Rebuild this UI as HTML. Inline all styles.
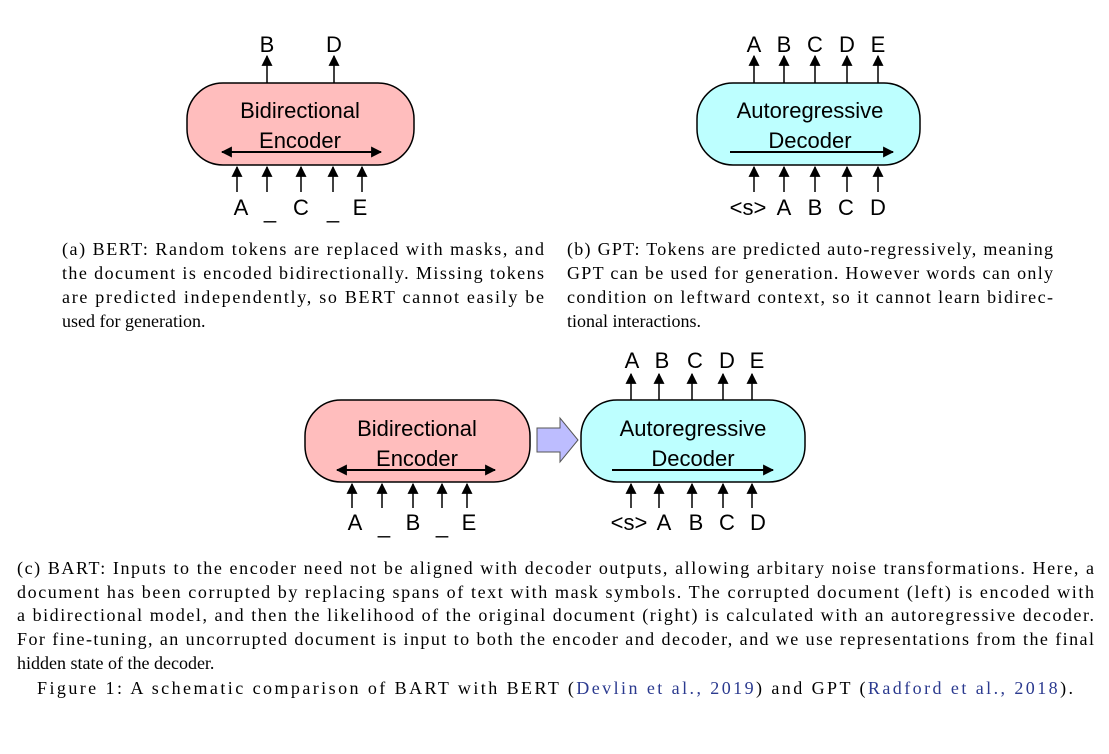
<!DOCTYPE html>
<html><head><meta charset="utf-8"><style>
html,body{margin:0;padding:0;background:#fff;}
svg{display:block;}
.s{font-family:"Liberation Sans",sans-serif;font-size:22px;fill:#000;}
.t{font-family:"Liberation Serif",serif;font-size:18px;fill:#000;}
</style></head><body>
<svg width="1109" height="754" viewBox="0 0 1109 754" xmlns="http://www.w3.org/2000/svg">
<defs>
<marker id="ah" viewBox="0 0 10 10" refX="9" refY="5" markerWidth="11" markerHeight="11" markerUnits="userSpaceOnUse" orient="auto-start-reverse">
<path d="M0,0 L10,5 L0,10 z" fill="#000"/></marker>
</defs>
<g stroke="#000" stroke-width="1.5" fill="none" marker-end="url(#ah)">
<!-- BERT -->
<line x1="267" y1="83" x2="267" y2="56"/><line x1="334" y1="83" x2="334" y2="56"/>
<line x1="237" y1="192" x2="237" y2="167"/><line x1="267" y1="192" x2="267" y2="167"/><line x1="301" y1="192" x2="301" y2="167"/><line x1="333" y1="192" x2="333" y2="167"/><line x1="362" y1="192" x2="362" y2="167"/>
<!-- GPT -->
<line x1="754" y1="83" x2="754" y2="56"/><line x1="784" y1="83" x2="784" y2="56"/><line x1="815" y1="83" x2="815" y2="56"/><line x1="847" y1="83" x2="847" y2="56"/><line x1="878" y1="83" x2="878" y2="56"/>
<line x1="754" y1="192" x2="754" y2="167"/><line x1="784" y1="192" x2="784" y2="167"/><line x1="815" y1="192" x2="815" y2="167"/><line x1="847" y1="192" x2="847" y2="167"/><line x1="878" y1="192" x2="878" y2="167"/>
<!-- BART -->
<line x1="352" y1="508" x2="352" y2="484"/><line x1="382" y1="508" x2="382" y2="484"/><line x1="413" y1="508" x2="413" y2="484"/><line x1="442" y1="508" x2="442" y2="484"/><line x1="467" y1="508" x2="467" y2="484"/>
<line x1="631" y1="400" x2="631" y2="374"/><line x1="659" y1="400" x2="659" y2="374"/><line x1="692" y1="400" x2="692" y2="374"/><line x1="723" y1="400" x2="723" y2="374"/><line x1="752" y1="400" x2="752" y2="374"/>
<line x1="631" y1="508" x2="631" y2="484"/><line x1="659" y1="508" x2="659" y2="484"/><line x1="692" y1="508" x2="692" y2="484"/><line x1="723" y1="508" x2="723" y2="484"/><line x1="752" y1="508" x2="752" y2="484"/>
</g>
<rect x="187" y="83" width="227" height="82" rx="36" fill="#ffbdbd" stroke="#000" stroke-width="1.5"/>
<rect x="697" y="83" width="223" height="82" rx="36" fill="#bdffff" stroke="#000" stroke-width="1.5"/>
<rect x="305" y="400" width="225" height="82" rx="36" fill="#ffbdbd" stroke="#000" stroke-width="1.5"/>
<rect x="581" y="400" width="224" height="82" rx="36" fill="#bdffff" stroke="#000" stroke-width="1.5"/>
<path d="M537,428 L560,428 L560,418 L578,440 L560,462 L560,452 L537,452 z" fill="#bdbdff" stroke="#555" stroke-width="1"/>
<g stroke="#000" stroke-width="2" fill="none">
<line x1="222" y1="152" x2="381" y2="152" marker-start="url(#ah)" marker-end="url(#ah)"/>
<line x1="730" y1="152" x2="893" y2="152" marker-end="url(#ah)"/>
<line x1="337" y1="470" x2="495" y2="470" marker-start="url(#ah)" marker-end="url(#ah)"/>
<line x1="612" y1="470" x2="773" y2="470" marker-end="url(#ah)"/>
</g>
<g class="s" text-anchor="middle">
<text x="300" y="118">Bidirectional</text><text x="300" y="148">Encoder</text>
<text x="810" y="118">Autoregressive</text><text x="810" y="148">Decoder</text>
<text x="417" y="436">Bidirectional</text><text x="417" y="466">Encoder</text>
<text x="693" y="436">Autoregressive</text><text x="693" y="466">Decoder</text>
<text x="267" y="52">B</text><text x="334" y="52">D</text>
<text x="241" y="215">A</text><text x="270" y="218">_</text><text x="301" y="215">C</text><text x="333" y="218">_</text><text x="360" y="215">E</text>
<text x="754" y="52">A</text><text x="784" y="52">B</text><text x="815" y="52">C</text><text x="847" y="52">D</text><text x="878" y="52">E</text>
<text x="748" y="215">&lt;s&gt;</text><text x="784" y="215">A</text><text x="815" y="215">B</text><text x="846" y="215">C</text><text x="878" y="215">D</text>
<text x="355" y="530">A</text><text x="384" y="533">_</text><text x="413" y="530">B</text><text x="442" y="533">_</text><text x="469" y="530">E</text>
<text x="632" y="368">A</text><text x="662" y="368">B</text><text x="695" y="368">C</text><text x="727" y="368">D</text><text x="757" y="368">E</text>
<text x="629" y="530">&lt;s&gt;</text><text x="664" y="530">A</text><text x="696" y="530">B</text><text x="727" y="530">C</text><text x="758" y="530">D</text>
</g>
<g class="t">
<text x="62" y="255" textLength="482" lengthAdjust="spacing">(a) BERT: Random tokens are replaced with masks, and</text>
<text x="62" y="279" textLength="482" lengthAdjust="spacing">the document is encoded bidirectionally. Missing tokens</text>
<text x="62" y="303" textLength="482" lengthAdjust="spacing">are predicted independently, so BERT cannot easily be</text>
<text x="62" y="327">used for generation.</text>
<text x="567" y="255" textLength="486" lengthAdjust="spacing">(b) GPT: Tokens are predicted auto-regressively, meaning</text>
<text x="567" y="279" textLength="486" lengthAdjust="spacing">GPT can be used for generation. However words can only</text>
<text x="567" y="303" textLength="486" lengthAdjust="spacing">condition on leftward context, so it cannot learn bidirec-</text>
<text x="567" y="327">tional interactions.</text>
<text x="17" y="574" textLength="1077" lengthAdjust="spacing">(c) BART: Inputs to the encoder need not be aligned with decoder outputs, allowing arbitary noise transformations. Here, a</text>
<text x="17" y="598" textLength="1077" lengthAdjust="spacing">document has been corrupted by replacing spans of text with mask symbols. The corrupted document (left) is encoded with</text>
<text x="17" y="621" textLength="1077" lengthAdjust="spacing">a bidirectional model, and then the likelihood of the original document (right) is calculated with an autoregressive decoder.</text>
<text x="17" y="645" textLength="1077" lengthAdjust="spacing">For fine-tuning, an uncorrupted document is input to both the encoder and decoder, and we use representations from the final</text>
<text x="17" y="669">hidden state of the decoder.</text>
<text x="37" y="694" textLength="1036" lengthAdjust="spacing">Figure 1: A schematic comparison of BART with BERT (<tspan fill="#2b3a8f">Devlin et al., 2019</tspan>) and GPT (<tspan fill="#2b3a8f">Radford et al., 2018</tspan>).</text>
</g>
</svg>
</body></html>
